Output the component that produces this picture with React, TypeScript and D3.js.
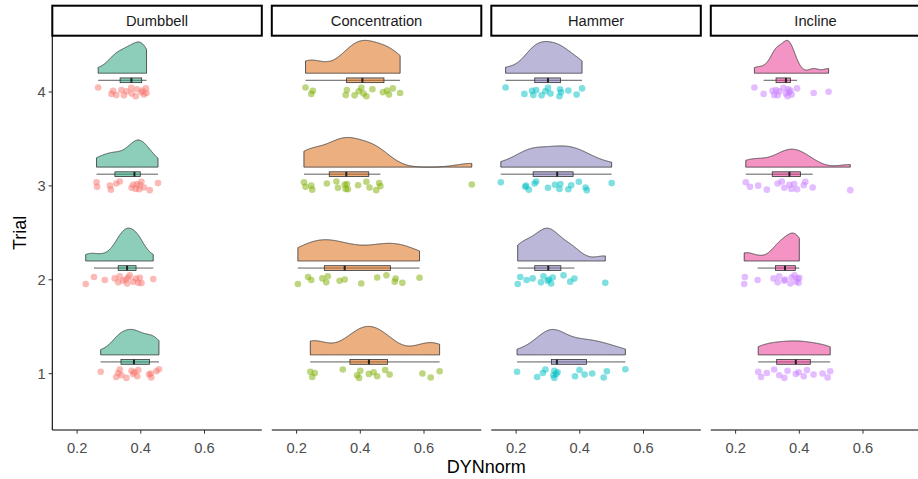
import React from 'react';
import * as d3 from 'd3';

// facets and trials
const EXERCISES = ['Dumbbell', 'Concentration', 'Hammer', 'Incline'];
const TRIALS = [1, 2, 3, 4];
const X_TICKS = [0.2, 0.4, 0.6];

// DYNnorm values per trial (index 0 = trial 1)
const DUMBBELL = [
  [0.274, 0.323, 0.329, 0.334, 0.339, 0.355, 0.371, 0.376, 0.381, 0.389, 0.392, 0.426, 0.431, 0.433, 0.449, 0.457],
  [0.227, 0.253, 0.287, 0.318, 0.329, 0.334, 0.344, 0.353, 0.357, 0.36, 0.365, 0.376, 0.385, 0.392, 0.397, 0.402, 0.439],
  [0.261, 0.263, 0.303, 0.306, 0.323, 0.334, 0.371, 0.376, 0.384, 0.388, 0.395, 0.397, 0.402, 0.41, 0.428, 0.454],
  [0.266, 0.308, 0.313, 0.323, 0.339, 0.347, 0.355, 0.37, 0.371, 0.384, 0.388, 0.402, 0.405, 0.41, 0.416, 0.418],
];
const CONCENTRATION = [
  [0.243, 0.249, 0.257, 0.345, 0.39, 0.396, 0.4, 0.427, 0.442, 0.453, 0.478, 0.492, 0.595, 0.621, 0.649],
  [0.204, 0.236, 0.246, 0.281, 0.293, 0.298, 0.335, 0.351, 0.403, 0.453, 0.482, 0.508, 0.511, 0.532, 0.586],
  [0.223, 0.228, 0.246, 0.249, 0.295, 0.325, 0.33, 0.351, 0.354, 0.358, 0.361, 0.393, 0.419, 0.429, 0.45, 0.459, 0.463, 0.75],
  [0.228, 0.246, 0.251, 0.354, 0.358, 0.382, 0.395, 0.403, 0.41, 0.419, 0.438, 0.471, 0.484, 0.49, 0.502, 0.525],
];
const HAMMER = [
  [0.203, 0.266, 0.284, 0.292, 0.317, 0.32, 0.32, 0.326, 0.33, 0.385, 0.399, 0.415, 0.439, 0.475, 0.485, 0.543],
  [0.205, 0.213, 0.233, 0.252, 0.278, 0.286, 0.299, 0.303, 0.31, 0.315, 0.349, 0.37, 0.383, 0.48],
  [0.152, 0.229, 0.231, 0.24, 0.258, 0.263, 0.3, 0.322, 0.336, 0.339, 0.364, 0.373, 0.397, 0.418, 0.422, 0.5],
  [0.167, 0.226, 0.25, 0.254, 0.263, 0.28, 0.292, 0.3, 0.308, 0.336, 0.338, 0.341, 0.364, 0.39, 0.407],
];
const INCLINE = [
  [0.271, 0.28, 0.298, 0.321, 0.337, 0.353, 0.363, 0.389, 0.398, 0.414, 0.424, 0.445, 0.473, 0.489, 0.497],
  [0.227, 0.229, 0.269, 0.319, 0.332, 0.337, 0.353, 0.355, 0.372, 0.376, 0.385, 0.39, 0.395, 0.398, 0.4],
  [0.232, 0.245, 0.271, 0.298, 0.332, 0.345, 0.353, 0.369, 0.375, 0.384, 0.393, 0.414, 0.419, 0.442, 0.56],
  [0.259, 0.288, 0.316, 0.321, 0.327, 0.332, 0.337, 0.35, 0.358, 0.363, 0.365, 0.368, 0.372, 0.376, 0.393, 0.445, 0.492],
];
const VALUES = [DUMBBELL, CONCENTRATION, HAMMER, INCLINE];

// styling
const FILLS = ['#1B9E77', '#D95F02', '#7570B3', '#E7298A'];
const POINT_COLORS = ['#F8766D', '#7CAE00', '#00BFC4', '#C77CFF'];
const JITTER = [0.42, -0.71, 0.15, 0.88, -0.33, -0.9, 0.6, -0.05, 0.3, -0.55, 0.77, -0.2, 0.05, -0.8, 0.5, 0.95, -0.4, 0.25, -0.65];
const FONT = '"Liberation Sans", Arial, sans-serif';

const W = 918;
const H = 479;
const PANEL_LEFT = 52.3;
const PANEL_W = 209.5;
const GAP = 10;
const STRIP_TOP = 5.7;
const PANEL_TOP = 35.7;
const PANEL_BOTTOM = 430;

const nrd0 = (xs: number[]) => {
  const s = [...xs].sort(d3.ascending);
  const sd = d3.deviation(s) as number;
  const iqr = (d3.quantile(s, 0.75) as number) - (d3.quantile(s, 0.25) as number);
  const lo = Math.min(sd, iqr / 1.34) || sd;
  return 0.9 * lo * Math.pow(s.length, -0.2);
};

const kde = (xs: number[]) => {
  const bw = nrd0(xs);
  const [lo, hi] = d3.extent(xs) as [number, number];
  const n = 512;
  return d3.range(n).map((i) => {
    const v = lo + ((hi - lo) * i) / (n - 1);
    const dens = d3.sum(xs, (x) => Math.exp(-0.5 * ((v - x) / bw) ** 2)) / (xs.length * bw * Math.sqrt(2 * Math.PI));
    return { v, dens };
  });
};

const boxStats = (xs: number[]) => {
  const s = [...xs].sort(d3.ascending);
  const q1 = d3.quantile(s, 0.25) as number;
  const med = d3.quantile(s, 0.5) as number;
  const q3 = d3.quantile(s, 0.75) as number;
  const iqr = q3 - q1;
  const lo = d3.min(s.filter((v) => v >= q1 - 1.5 * iqr)) as number;
  const hi = d3.max(s.filter((v) => v <= q3 + 1.5 * iqr)) as number;
  return { q1, med, q3, lo, hi };
};

export default function App() {
  const all = VALUES.flat(2);
  const [mn, mx] = d3.extent(all) as [number, number];
  const pad = (mx - mn) * 0.05;
  const y = d3.scaleLinear().domain([0.4, 4.6]).range([PANEL_BOTTOM, PANEL_TOP]);

  return (
    <svg width={W} height={H} style={{ position: 'absolute', left: 0, top: 0, background: '#fff' }} fontFamily={FONT}>
      {EXERCISES.map((ex, pi) => {
        const left = PANEL_LEFT + pi * (PANEL_W + GAP);
        const x = d3.scaleLinear().domain([mn - pad, mx + pad]).range([left, left + PANEL_W]);
        const dens = VALUES[pi].map((vals) => kde(vals));
        const maxD = d3.max(dens.flat(), (d) => d.dens) as number;
        return (
          <g key={ex}>
            {/* strip */}
            <rect x={left} y={STRIP_TOP} width={PANEL_W} height={PANEL_TOP - STRIP_TOP} fill="#fff" stroke="#000" strokeWidth={2} />
            <text x={left + PANEL_W / 2} y={26.3} textAnchor="middle" fontSize={14.7} fill="#1A1A1A">{ex}</text>

            {TRIALS.map((t, ti) => {
              const vals = VALUES[pi][ti];
              const base = t + 0.2;
              const area = d3
                .area<{ v: number; dens: number }>()
                .x((d) => x(d.v))
                .y0(y(base))
                .y1((d) => y(base + 0.35 * (d.dens / maxD)));
              const b = boxStats(vals);
              const by = y(t + 0.125);
              const bh = y(t) - y(t + 0.025);
              return (
                <g key={t}>
                  <path d={area(dens[ti]) as string} fill={FILLS[pi]} fillOpacity={0.5} stroke="#333" strokeWidth={0.8} />
                  {vals.map((v, j) => (
                    <circle key={j} cx={x(v)} cy={y(t + 0.05 * JITTER[(j + ti * 5) % JITTER.length])} r={3.3} fill={POINT_COLORS[pi]} fillOpacity={0.5} />
                  ))}
                  <line x1={x(b.lo)} x2={x(b.hi)} y1={by} y2={by} stroke="#333" strokeWidth={0.8} />
                  <rect x={x(b.q1)} y={by - bh} width={x(b.q3) - x(b.q1)} height={bh * 2} fill={FILLS[pi]} fillOpacity={0.5} stroke="#333" strokeWidth={0.8} />
                  <line x1={x(b.med)} x2={x(b.med)} y1={by - bh} y2={by + bh} stroke="#222" strokeWidth={2} />
                </g>
              );
            })}

            {/* x axis */}
            <line x1={left} x2={left + PANEL_W} y1={PANEL_BOTTOM} y2={PANEL_BOTTOM} stroke="#000" strokeWidth={1.1} />
            {X_TICKS.map((tk) => (
              <g key={tk}>
                <line x1={x(tk)} x2={x(tk)} y1={PANEL_BOTTOM} y2={PANEL_BOTTOM + 3.7} stroke="#333" strokeWidth={1} />
                <text x={x(tk)} y={452.5} textAnchor="middle" fontSize={14.7} fill="#4D4D4D">{tk.toFixed(1)}</text>
              </g>
            ))}
          </g>
        );
      })}

      {/* y axis (first panel only) */}
      <line x1={PANEL_LEFT} x2={PANEL_LEFT} y1={PANEL_TOP} y2={PANEL_BOTTOM} stroke="#000" strokeWidth={1.1} />
      {TRIALS.map((t) => (
        <g key={t}>
          <line x1={PANEL_LEFT - 3.7} x2={PANEL_LEFT} y1={y(t)} y2={y(t)} stroke="#333" strokeWidth={1} />
          <text x={PANEL_LEFT - 6.6} y={y(t)} dy="0.36em" textAnchor="end" fontSize={14.7} fill="#4D4D4D">{t}</text>
        </g>
      ))}

      <text transform={`translate(26,${(PANEL_TOP + PANEL_BOTTOM) / 2}) rotate(-90)`} textAnchor="middle" fontSize={18} fill="#000">Trial</text>
      <text x={PANEL_LEFT + (4 * PANEL_W + 3 * GAP) / 2} y={473} textAnchor="middle" fontSize={18} fill="#000">DYNnorm</text>
    </svg>
  );
}
